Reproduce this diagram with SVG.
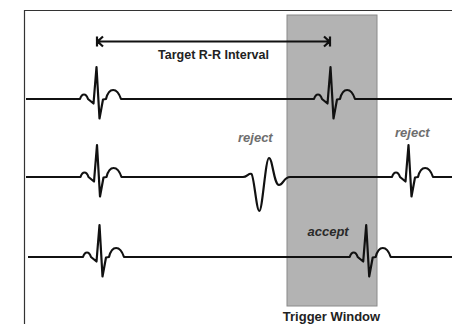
<svg xmlns="http://www.w3.org/2000/svg" width="452" height="324" viewBox="0 0 452 324">
<style>
.ecg{fill:none;stroke:#111;stroke-width:2.2;stroke-linejoin:round;stroke-linecap:butt}
.frame{fill:none;stroke:#333;stroke-width:1.2}
.lbl{font-family:"Liberation Sans",Arial,sans-serif;font-weight:bold;fill:#222}
.note{font-family:"Liberation Sans",Arial,sans-serif;font-weight:bold;font-style:italic;font-size:13px}
.arr{fill:none;stroke:#111;stroke-width:2.2}
</style>
<rect width="452" height="324" fill="#fff"/>
<g id="frame"><path class="frame" d="M24.5 324 V10.5 H452"/></g>
<g id="trigger-window">
<rect x="287" y="15" width="90" height="291" fill="#b3b3b3" stroke="#8a8a8a" stroke-width="1"/>
<text class="lbl" x="331.5" y="320.5" font-size="13" text-anchor="middle">Trigger Window</text>
</g>
<g id="interval">
<path class="arr" d="M97 41.5 H330 M97 36.5 V46.5 M103 36.5 L97.5 41.5 L103 46.5 M330 36.5 V46.5 M324 36.5 L329.5 41.5 L324 46.5"/>
<text class="lbl" x="213.5" y="59" font-size="12.5" text-anchor="middle">Target R-R Interval</text>
</g>
<g id="connectors">
<path id="row1" class="ecg" d="M26 99 H80 c2 -6 6 -6 8 0 l5.5 4.5 l3 -36.5 l3 51.5 l3.5 -19 l3 -0.5 c3 -12 11 -12 15 0 H314 c2 -6 6 -6 8 0 l5.5 4.5 l3 -36.5 l3 51.5 l3.5 -19 l3 -0.5 c3 -12 11 -12 15 0 H452"/>
<path id="row2" class="ecg" d="M26 177 H80.5 c2 -6 6 -6 8 0 l5.5 4.5 l3 -36.5 l3 51.5 l3.5 -19 l3 -0.5 c3 -12 11 -12 15 0 H243 C247 177 249 172.5 251.5 174 C254 176 256.5 211 259.3 211 C262.5 211 265.5 158 269 158 C272.5 158 274 185 279 185 C283 185 284 177 290 177 H392 c2 -6 6 -6 8 0 l5.5 4.5 l3 -36.5 l3 51.5 l3.5 -19 l3 -0.5 c3 -12 11 -12 15 0 H452"/>
<path id="row3" class="ecg" d="M28 257 H83 c2 -6 6 -6 8 0 l5.5 4.5 l3 -36.5 l3 51.5 l3.5 -19 l3 -0.5 c3 -12 11 -12 15 0 H349.7 c2 -6 6 -6 8 0 l5.5 4.5 l3 -36.5 l3 51.5 l3.5 -19 l3 -0.5 c3 -12 11 -12 15 0 H452"/>
</g>
<g id="reject1"><text class="note" x="238" y="141.5" fill="#6e6e6e">reject</text></g>
<g id="reject2"><text class="note" x="395" y="136.5" fill="#6e6e6e">reject</text></g>
<g id="accept"><text class="note" x="307.5" y="236" fill="#2a2a2a">accept</text></g>
</svg>
